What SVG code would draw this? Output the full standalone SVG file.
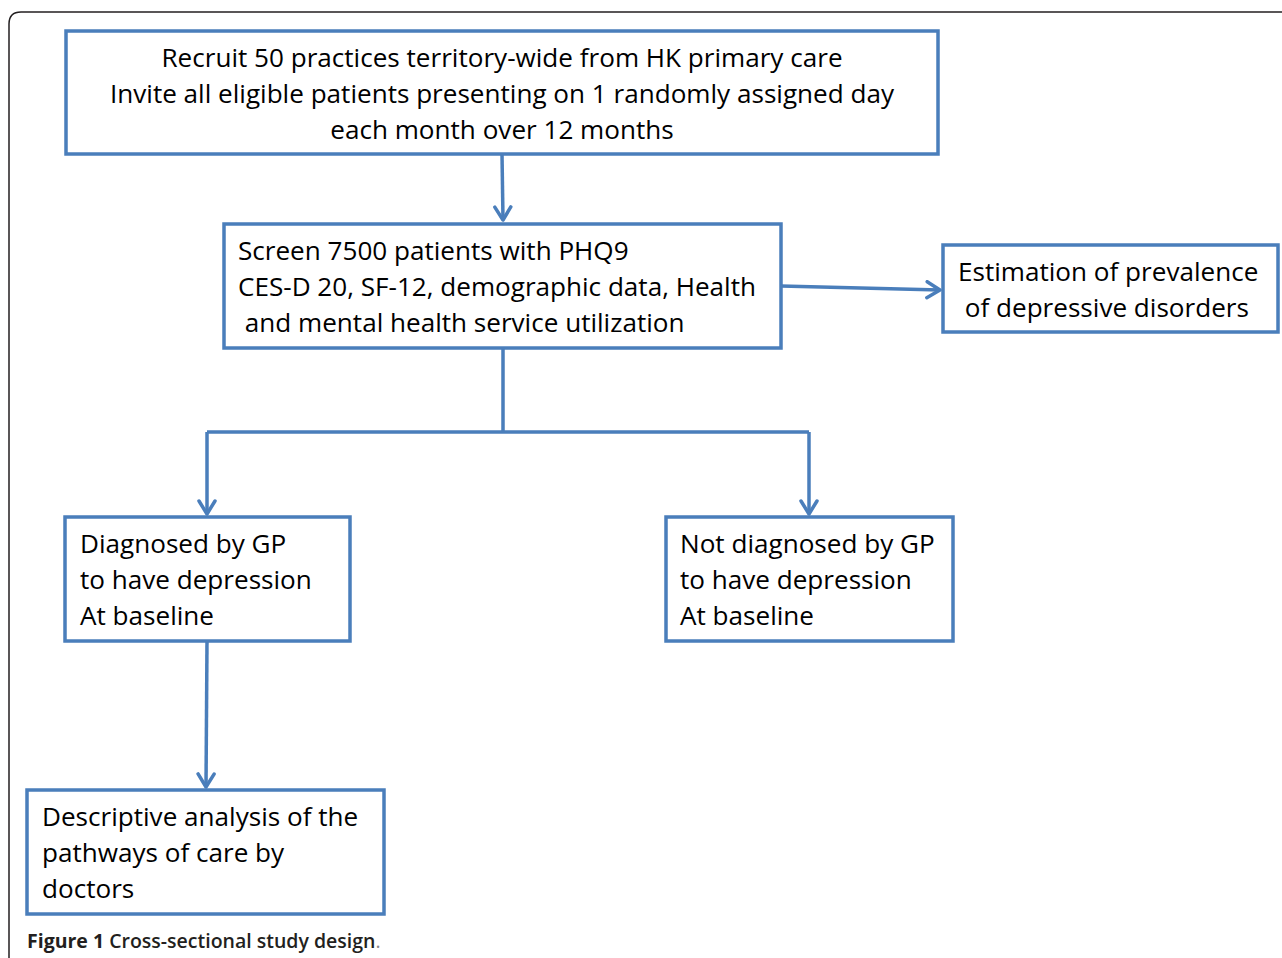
<svg xmlns="http://www.w3.org/2000/svg" width="1282" height="958" viewBox="0 0 1282 958">
<defs>
<style>
.box{fill:#fff;stroke:#4a7ebb;stroke-width:3.5}
.t{font-family:"Open Sans","DejaVu Sans",sans-serif;font-size:26.1px;fill:#000}
.c{stroke:#4a7ebb;stroke-width:3.5;fill:none}
.cap{font-family:"Open Sans","Liberation Sans",sans-serif;font-size:19.5px;font-weight:600;fill:#231f20}
</style>
<marker id="ah" markerWidth="18" markerHeight="20" viewBox="0 0 18 20" refX="15" refY="10" orient="auto" markerUnits="userSpaceOnUse">
<path d="M2,2 L15,10 L2,18" fill="none" stroke="#4a7ebb" stroke-width="3.5" stroke-linecap="round" stroke-linejoin="round"/>
</marker>
</defs>
<rect width="1282" height="958" fill="#fff"/>
<path d="M9,958 V24 Q9,12 21,12 H1282" fill="none" stroke="#231f20" stroke-width="1.5"/>
<g id="connectors">
<path class="c" d="M502,154 L503,220" marker-end="url(#ah)"/>
<path class="c" d="M781,286 L940,290" marker-end="url(#ah)"/>
<path class="c" d="M503,348 V432 M207,432 H809"/>
<path class="c" d="M207,432 V514" marker-end="url(#ah)"/>
<path class="c" d="M809,432 V514" marker-end="url(#ah)"/>
<path class="c" d="M207,641 L206,787" marker-end="url(#ah)"/>
</g>
<g id="n1">
<rect class="box" x="66" y="31" width="872" height="123"/>
<text class="t" text-anchor="middle"><tspan x="502" y="67">Recruit 50 practices territory-wide from HK primary care</tspan><tspan x="502" y="103">Invite all eligible patients presenting on 1 randomly assigned day</tspan><tspan x="502" y="139">each month over 12 months</tspan></text>
</g>
<g id="n2">
<rect class="box" x="224" y="224" width="557" height="124"/>
<text class="t"><tspan x="238" y="260">Screen 7500 patients with PHQ9</tspan><tspan x="238" y="296">CES-D 20, SF-12, demographic data, Health</tspan><tspan x="238" y="332" xml:space="preserve"> and mental health service utilization</tspan></text>
</g>
<g id="n3">
<rect class="box" x="943" y="245" width="335" height="87"/>
<text class="t"><tspan x="958" y="281">Estimation of prevalence</tspan><tspan x="958" y="317" xml:space="preserve"> of depressive disorders</tspan></text>
</g>
<g id="n4">
<rect class="box" x="65" y="517" width="285" height="124"/>
<text class="t"><tspan x="80" y="553">Diagnosed by GP</tspan><tspan x="80" y="589">to have depression</tspan><tspan x="80" y="625">At baseline</tspan></text>
</g>
<g id="n5">
<rect class="box" x="666" y="517" width="287" height="124"/>
<text class="t"><tspan x="680" y="553">Not diagnosed by GP</tspan><tspan x="680" y="589">to have depression</tspan><tspan x="680" y="625">At baseline</tspan></text>
</g>
<g id="n6">
<rect class="box" x="27" y="790" width="357" height="124"/>
<text class="t"><tspan x="42" y="826">Descriptive analysis of the</tspan><tspan x="42" y="862">pathways of care by</tspan><tspan x="42" y="898">doctors</tspan></text>
</g>
<text class="cap" x="27" y="948"><tspan font-weight="bold">Figure 1</tspan> Cross-sectional study design<tspan fill="#888" font-weight="normal">.</tspan></text>
</svg>
